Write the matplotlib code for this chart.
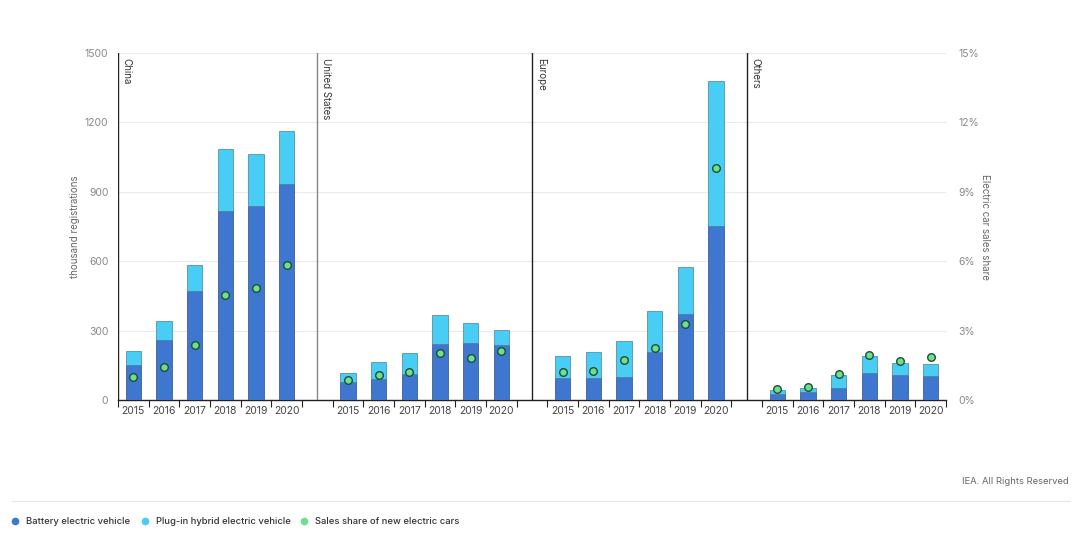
import matplotlib.pyplot as plt
import numpy as np

plt.rcParams["font.family"] = ["Inter", "DejaVu Sans"]

regions = ["China", "United States", "Europe", "Others"]
years = ["2015", "2016", "2017", "2018", "2019", "2020"]

# thousand registrations
bev = {
    "China": [150, 259, 471, 818, 839, 934],
    "United States": [76, 89, 111, 242, 245, 236],
    "Europe": [94, 94, 98, 206, 370, 751],
    "Others": [25, 35, 52, 117, 107, 102],
}
total = {
    "China": [212, 341, 584, 1085, 1063, 1163],
    "United States": [117, 164, 202, 366, 331, 301],
    "Europe": [192, 209, 255, 386, 575, 1379],
    "Others": [42, 52, 107, 189, 161, 154],
}
# sales share, %
share = {
    "China": [1.0, 1.43, 2.38, 4.54, 4.84, 5.84],
    "United States": [0.85, 1.08, 1.22, 2.03, 1.80, 2.10],
    "Europe": [1.22, 1.27, 1.73, 2.23, 3.27, 10.04],
    "Others": [0.48, 0.58, 1.11, 1.93, 1.70, 1.86],
}

c_bev = "#3f76d0"
c_phev = "#48cdf5"
c_share = "#6ee08c"
grey = "#666666"

fig = plt.figure(figsize=(10.82, 5.36), dpi=100)
ax = fig.add_axes([118 / 1082, 136 / 536, 828 / 1082, 347 / 536])
ax2 = ax.twinx()

n = len(years)
xpos, xlab = [], []
for g, reg in enumerate(regions):
    x = np.arange(n) + g * (n + 1)
    phev = np.array(total[reg]) - np.array(bev[reg])
    ax.bar(x, bev[reg], width=0.5, color=c_bev, edgecolor="#2c4f7a", linewidth=0.5, zorder=3)
    ax.bar(x, phev, bottom=bev[reg], width=0.5, color=c_phev, edgecolor="#4a7f98", linewidth=0.5, zorder=3)
    ax2.scatter(x, share[reg], s=30, color=c_share, edgecolor="#1e4d36", linewidth=1.0, zorder=5)
    xpos += list(x)
    xlab += years
    sep = g * (n + 1) - 1 if g > 0 else -0.5
    ax.axvline(sep, color="#222222" if g != 1 else "#888888", lw=1.0, zorder=4)
    ax.text(sep + 0.12, 1478, reg, rotation=-90, va="top", ha="left", fontsize=7, color="#333333")

ax.set_xlim(-0.5, 4 * n + 3 - 0.5)
ax.set_ylim(0, 1500)
ax2.set_ylim(0, 15)
ax.set_yticks([0, 300, 600, 900, 1200, 1500])
ax2.set_yticks([0, 3, 6, 9, 12, 15])
ax2.set_yticklabels([f"{v}%" for v in [0, 3, 6, 9, 12, 15]])

ax.set_xticks(xpos)
ax.set_xticklabels(xlab)
ax.set_xticks(np.arange(-0.5, 4 * n + 3, 1.0), minor=True)
ax.tick_params(axis="x", which="major", length=0, labelsize=7.5, labelcolor="#444444", pad=4)
ax.tick_params(axis="x", which="minor", length=5, width=0.8, color="#222222", direction="out")
ax.tick_params(axis="y", length=0, labelsize=7.5, labelcolor="#888888", pad=7)
ax2.tick_params(axis="y", length=0, labelsize=7.5, labelcolor="#888888", pad=9)

ax.grid(axis="y", color="#ebebeb", lw=0.8, zorder=0)
ax.set_axisbelow(True)
for a in (ax, ax2):
    for s in ("top", "right", "left"):
        a.spines[s].set_visible(False)
ax2.spines["bottom"].set_visible(False)
ax.spines["bottom"].set_color("#222222")
ax.spines["bottom"].set_linewidth(1.0)

ax.set_ylabel("thousand registrations", fontsize=7, color=grey)
ax.yaxis.set_label_coords(-0.046, 0.5)
ax2.set_ylabel("Electric car sales share", fontsize=7, color=grey, rotation=-90, va="center")
ax2.yaxis.set_label_coords(1.047, 0.5)

fig.text(1069 / 1082, 1 - 482 / 536, "IEA. All Rights Reserved", ha="right", va="center", fontsize=6.8, color="#666666")
fig.add_artist(plt.Line2D([12 / 1082, 1070 / 1082], [1 - 501 / 536] * 2, color="#e6e6e6", lw=0.8))

legend_items = [
    (15, c_bev, "Battery electric vehicle"),
    (145, c_phev, "Plug-in hybrid electric vehicle"),
    (304, c_share, "Sales share of new electric cars"),
]
for px, col, lab in legend_items:
    fig.add_artist(plt.Line2D([px / 1082], [1 - 521 / 536], marker="o", ms=4.5, color=col, mec=col, lw=0))
    fig.text((px + 11) / 1082, 1 - 521 / 536, lab, ha="left", va="center", fontsize=6.8,
             color="#333333", fontweight="medium")

fig.savefig("out.png", dpi=100)
